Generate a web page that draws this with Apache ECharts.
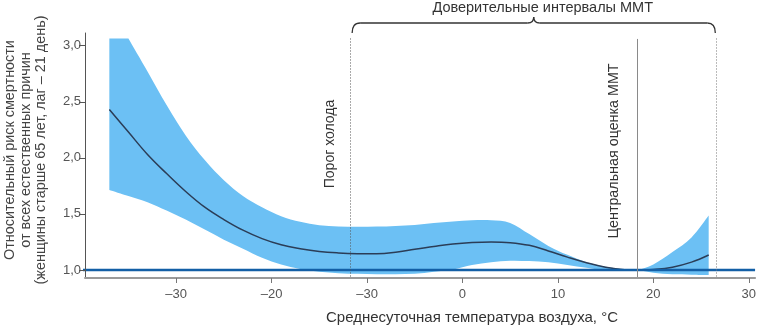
<!DOCTYPE html>
<html>
<head>
<meta charset="utf-8">
<title></title>
<script src="https://cdn.jsdelivr.net/npm/echarts@6.0.0/dist/echarts.min.js"></script>
<style>
  html, body { margin: 0; padding: 0; background: #fff; }
  #chart { width: 759px; height: 327px; }
</style>
</head>
<body>
<div id="chart"></div>
<script>
// температура (ось X, реальные значения)
var temps = [-37, -35, -33, -31, -29, -27, -25, -23, -21, -19, -17, -15, -13, -11, -9, -7, -5, -3, -1, 1, 3, 5, 7, 9, 11, 13, 15, 17, 18.3, 20, 22, 24, 25.8];
// центральная оценка ОР
var rrMid = [2.43, 2.23, 2.03, 1.86, 1.70, 1.56, 1.45, 1.355, 1.28, 1.225, 1.19, 1.165, 1.152, 1.146, 1.145, 1.158, 1.185, 1.21, 1.232, 1.245, 1.25, 1.244, 1.22, 1.17, 1.115, 1.065, 1.025, 1.003, 1.0, 1.005, 1.025, 1.07, 1.134];
// верхняя граница ДИ (обрезана сверху)
var rrHigh = [3.064, 3.064, 2.77, 2.47, 2.20, 1.98, 1.80, 1.66, 1.56, 1.48, 1.43, 1.40, 1.388, 1.385, 1.387, 1.393, 1.402, 1.418, 1.432, 1.443, 1.443, 1.42, 1.32, 1.215, 1.135, 1.07, 1.03, 1.006, 1.0, 1.05, 1.16, 1.29, 1.485];
// нижняя граница ДИ
var rrLow = [1.714, 1.66, 1.605, 1.53, 1.45, 1.36, 1.27, 1.19, 1.11, 1.05, 1.01, 0.985, 0.972, 0.966, 0.962, 0.962, 0.966, 0.985, 1.005, 1.045, 1.07, 1.083, 1.08, 1.07, 1.045, 1.02, 0.998, 0.997, 1.0, 0.975, 0.962, 0.958, 0.955];

var xTicks = [-30, -20, -10, 0, 10, 20, 30];
var xTickLabels = ['–30', '–20', '–30', '0', '10', '20', '30'];
var yTicks = [1, 1.5, 2, 2.5, 3];

var coldThreshold = -11.77;   // порог холода
var mmtCentral = 18.33;       // центральная оценка ММТ
var mmtUpper = 26.6;          // правая граница ДИ ММТ

var fontFam = '"Liberation Sans", Arial, sans-serif';
var bandColor = '#6cc0f4';
var yMin = 0.9287, yMax = 3.113;

var myChart = echarts.init(document.getElementById('chart'));

function pairs(vals) {
  return temps.map(function (t, i) { return [t, vals[i]]; });
}

// сглаживание Катмулла-Рома только для отрисовки контура полосы
function smoothTo(pts) {
  var d = '';
  for (var i = 0; i < pts.length - 1; i++) {
    var p0 = pts[i - 1] || pts[i], p1 = pts[i], p2 = pts[i + 1], p3 = pts[i + 2] || pts[i + 1];
    var c1x = p1[0] + (p2[0] - p0[0]) / 6, c1y = p1[1] + (p2[1] - p0[1]) / 6;
    var c2x = p2[0] - (p3[0] - p1[0]) / 6, c2y = p2[1] - (p3[1] - p1[1]) / 6;
    d += ' C' + c1x + ',' + c1y + ' ' + c2x + ',' + c2y + ' ' + p2[0] + ',' + p2[1];
  }
  return d;
}

myChart.setOption({
  animation: false,
  textStyle: { fontFamily: fontFam },
  grid: { left: 85, right: 0, top: 33, bottom: 49 },
  xAxis: {
    type: 'value',
    min: -39.55,
    max: 30.66,
    z: 6,
    axisLine: { show: true, onZero: false, lineStyle: { color: '#9a9a9a', width: 2 } },
    axisTick: { show: true, customValues: xTicks, length: 5, lineStyle: { color: '#777' } },
    axisLabel: {
      customValues: xTicks,
      color: '#555',
      fontSize: 13,
      margin: 10,
      formatter: function (v) {
        var i = xTicks.indexOf(v);
        return i >= 0 ? xTickLabels[i] : '';
      }
    },
    splitLine: { show: false }
  },
  yAxis: {
    type: 'value',
    min: yMin,
    max: yMax,
    z: 6,
    axisLine: { show: true, onZero: false, lineStyle: { color: '#555', width: 1 } },
    axisTick: { show: true, customValues: yTicks, length: 6, lineStyle: { color: '#555' } },
    axisLabel: {
      customValues: yTicks,
      color: '#555',
      fontSize: 13,
      margin: 4,
      formatter: function (v) { return v.toFixed(1).replace('.', ','); }
    },
    splitLine: { show: false }
  },
  series: [
    {
      // доверительная полоса
      type: 'custom',
      z: 1,
      data: [[temps[0], rrHigh[0]]],
      renderItem: function (params, api) {
        var up = [], lo = [];
        for (var i = 0; i < temps.length; i++) {
          up.push(api.coord([temps[i], rrHigh[i]]));
          lo.push(api.coord([temps[i], rrLow[i]]));
        }
        lo.reverse();
        var d = 'M' + lo[lo.length - 1][0] + ',' + lo[lo.length - 1][1] +
          ' L' + up[0][0] + ',' + up[0][1] + ' L' + up[1][0] + ',' + up[1][1] +
          smoothTo(up.slice(1)) +
          ' L' + lo[0][0] + ',' + lo[0][1] +
          smoothTo(lo) + ' Z';
        return { type: 'path', shape: { pathData: d }, style: { fill: bandColor, stroke: null } };
      }
    },
    {
      type: 'line',
      z: 3,
      data: pairs(rrMid),
      smooth: 0.4,
      showSymbol: false,
      lineStyle: { color: '#2b3d57', width: 1.5 },
      markLine: {
        symbol: 'none',
        silent: true,
        label: { show: false },
        data: [
          [{ coord: [coldThreshold, 3.064], lineStyle: { type: [1, 2], color: '#555', width: 1 } }, { coord: [coldThreshold, yMin] }],
          [{ coord: [mmtCentral, 3.06], lineStyle: { type: 'solid', color: '#8a8a8a', width: 1 } }, { coord: [mmtCentral, yMin] }],
          [{ coord: [mmtUpper, 3.064], lineStyle: { type: [1, 2], color: '#777', width: 1 } }, { coord: [mmtUpper, yMin] }]
        ]
      }
    },
    {
      // линия ОР = 1
      type: 'line',
      z: 4,
      clip: false,
      data: [[-40.1, 1], [30.66, 1]],
      showSymbol: false,
      lineStyle: { color: '#135fa6', width: 2.5 }
    }
  ]
});

// подписи и фигурная скобка
var pL = myChart.convertToPixel({ gridIndex: 0 }, [coldThreshold, 3.0]);
var pC = myChart.convertToPixel({ gridIndex: 0 }, [mmtCentral, 3.0]);
var pR = myChart.convertToPixel({ gridIndex: 0 }, [mmtUpper, 3.0]);
var x1 = pL[0] + 2, x2 = pR[0] - 1, xm = (x1 + x2) / 2;
var yb = 23, ye = 33, yt = 17;
var braceStyle = { stroke: '#333', lineWidth: 1.3, fill: null };

function curve(ax, ay, cx, cy, bx, by) {
  return { type: 'bezierCurve', shape: { x1: ax, y1: ay, cpx1: cx, cpy1: cy, x2: bx, y2: by }, style: braceStyle };
}
function seg(ax, ay, bx, by) {
  return { type: 'line', shape: { x1: ax, y1: ay, x2: bx, y2: by }, style: braceStyle };
}

myChart.setOption({
  graphic: [
    curve(x1, ye, x1, yb, x1 + 8, yb),
    seg(x1 + 8, yb, xm - 6, yb),
    curve(xm - 6, yb, xm, yb, xm, yt),
    curve(xm, yt, xm, yb, xm + 6, yb),
    seg(xm + 6, yb, x2 - 8, yb),
    curve(x2 - 8, yb, x2, yb, x2, ye),
    { type: 'text', x: xm + 9, y: 8, style: { text: 'Доверительные интервалы ММТ', font: '14.5px ' + fontFam, fill: '#333', align: 'center', verticalAlign: 'middle' } },
    { type: 'text', x: pL[0] - 20, y: 144, rotation: Math.PI / 2, style: { text: 'Порог холода', font: '14px ' + fontFam, fill: '#333', align: 'center', verticalAlign: 'middle' } },
    { type: 'text', x: pC[0] - 23, y: 151, rotation: Math.PI / 2, style: { text: 'Центральная оценка ММТ', font: '14.3px ' + fontFam, fill: '#333', align: 'center', verticalAlign: 'middle' } },
    { type: 'text', x: 26, y: 150, rotation: Math.PI / 2, style: {
      text: 'Относительный риск смертности\nот всех естественных причин\n(женщины старше 65 лет, лаг – 21 день)',
      font: '14.4px ' + fontFam, lineHeight: 15.5, fill: '#444', align: 'center', verticalAlign: 'middle' } },
    { type: 'text', x: 472, y: 318, style: { text: 'Среднесуточная температура воздуха, °C', font: '15px ' + fontFam, fill: '#333', align: 'center', verticalAlign: 'middle' } }
  ]
});
</script>
</body>
</html>
